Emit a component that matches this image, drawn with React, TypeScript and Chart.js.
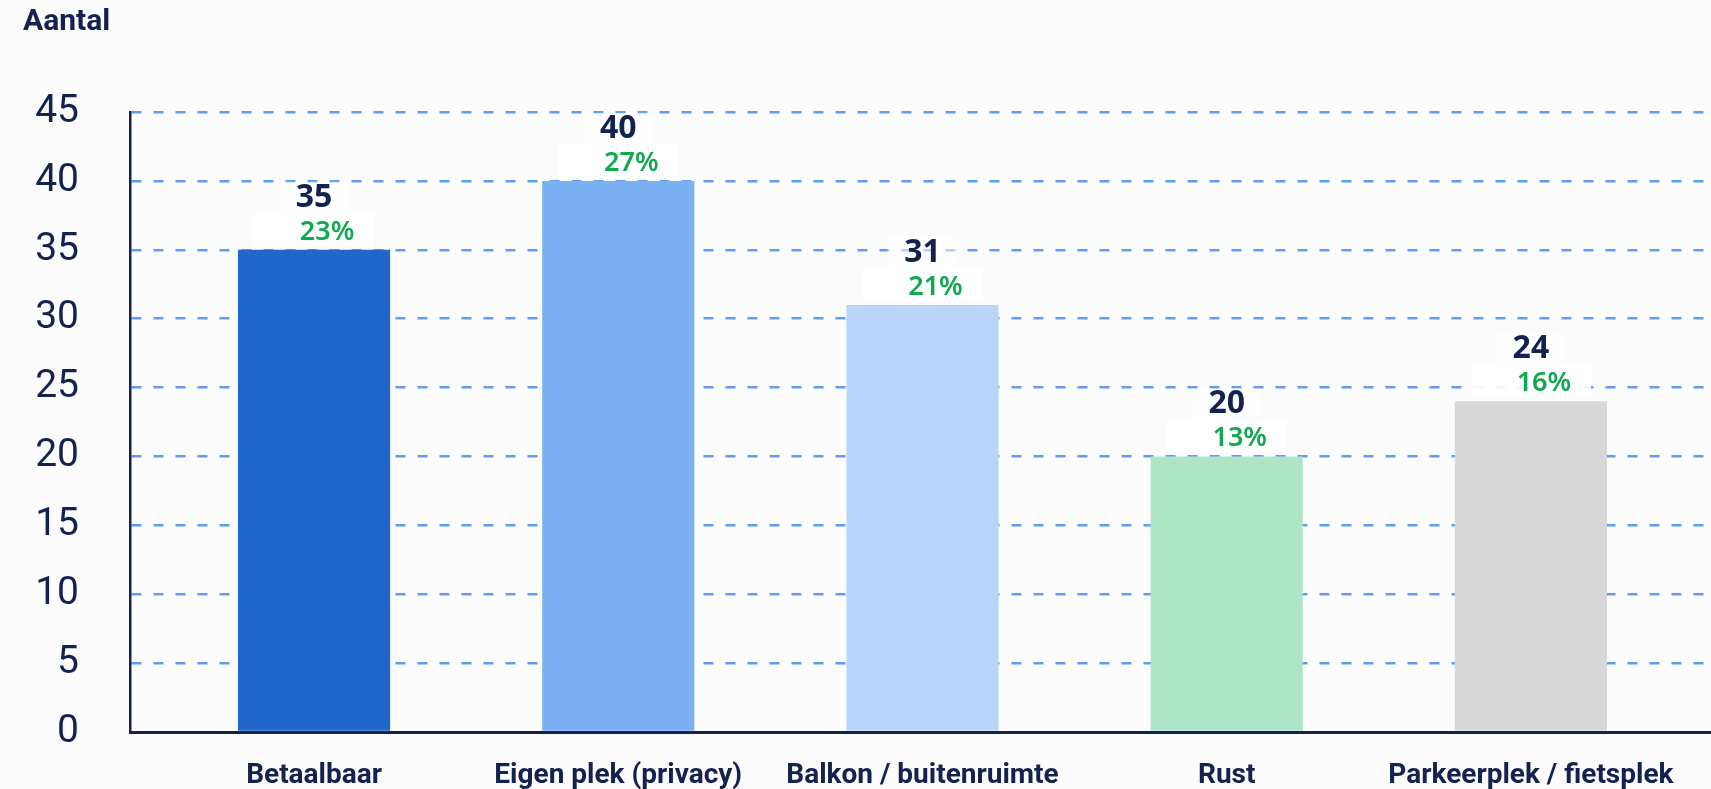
import React, { useEffect, useRef } from 'react';
import { Chart, registerables } from 'chart.js';

Chart.register(...registerables);

const categories = ['Betaalbaar', 'Eigen plek (privacy)', 'Balkon / buitenruimte', 'Rust', 'Parkeerplek / fietsplek'];
const counts = [35, 40, 31, 20, 24];
const percentages = ['23%', '27%', '21%', '13%', '16%'];
const barColors = ['#2167c9', '#7bb1f2', '#b9d6fa', '#aee5c8', '#d8d8d8'];
const yMin = 0;
const yMax = 45;
const yStep = 5;
const yTitle = 'Aantal';

const NAVY = '#13224f';
const GREEN = '#10a94f';

const valueLabels = {
  id: 'valueLabels',
  afterDatasetsDraw(chart: any) {
    const ctx = chart.ctx;
    const meta = chart.getDatasetMeta(0);
    meta.data.forEach((bar: any, i: number) => {
      const x = bar.x;
      const top = bar.y;
      ctx.save();
      ctx.fillStyle = 'rgba(255,255,255,0.92)';
      ctx.fillRect(x - 60, top - 38, 120, 35);
      ctx.fillStyle = 'rgba(255,255,255,0.5)';
      ctx.fillRect(x - 35, top - 68, 70, 30);
      ctx.textAlign = 'center';
      ctx.textBaseline = 'alphabetic';
      ctx.fillStyle = NAVY;
      ctx.font = 'bold 32px "Noto Sans"';
      ctx.fillText(String(counts[i]), x, top - 43);
      ctx.fillStyle = GREEN;
      ctx.font = '600 27px "Noto Sans"';
      ctx.fillText(percentages[i], x + 13, top - 10);
      ctx.restore();
    });
  },
};

export default function App() {
  const canvasRef = useRef<HTMLCanvasElement | null>(null);

  useEffect(() => {
    document.body.style.margin = '0';
    const canvas = canvasRef.current;
    if (!canvas) return;
    Chart.defaults.font.family = 'Roboto';
    const chart = new Chart(canvas, {
      type: 'bar',
      data: {
        datasets: [
          {
            data: counts.map((v, i) => ({ x: i, y: v })),
            backgroundColor: barColors,
            borderWidth: 0,
            barPercentage: 0.5,
            categoryPercentage: 1,
          },
        ],
      },
      options: {
        animation: false,
        responsive: false,
        layout: { padding: { left: 23, right: 0, top: 0, bottom: 0 } },
        plugins: {
          legend: { display: false },
          tooltip: { enabled: false },
          title: {
            display: true,
            text: yTitle,
            align: 'start',
            color: NAVY,
            font: { family: 'Roboto', size: 30, weight: 'bold' },
            padding: { top: 4, bottom: 72 },
          },
        },
        scales: {
          x: {
            type: 'linear',
            offset: false,
            bounds: 'data',
            min: -0.605,
            max: 4.592,
            afterBuildTicks: (axis: any) => {
              axis.ticks = categories.map((_, i) => ({ value: i }));
            },
            afterFit: (scale: any) => {
              scale.height = 57;
            },
            grid: { display: false, offset: false },
            border: { display: true, color: NAVY, width: 3 },
            ticks: {
              autoSkip: false,
              maxRotation: 0,
              padding: 19,
              color: NAVY,
              font: { family: 'Roboto', size: 28, weight: 'bold' },
              callback: (value: any) => categories[value as number] ?? '',
            },
          },
          y: {
            min: yMin,
            max: yMax,
            afterFit: (scale: any) => {
              scale.width = 107;
            },
            grid: {
              color: '#5d9ef5',
              lineWidth: 2.5,
              drawTicks: true,
              tickLength: 51,
              tickColor: 'rgba(0,0,0,0)',
            },
            border: { display: true, color: NAVY, width: 2.5, dash: [10, 12] },
            ticks: {
              stepSize: yStep,
              padding: 0,
              color: NAVY,
              font: { family: 'Roboto', size: 39 },
            },
          },
        },
      },
      plugins: [valueLabels],
    });
    return () => chart.destroy();
  }, []);

  return (
    <div style={{ width: 1711, height: 789, background: '#fcfcfd', position: 'relative' }}>
      <canvas ref={canvasRef} width={1711} height={789} style={{ display: 'block' }} />
    </div>
  );
}
